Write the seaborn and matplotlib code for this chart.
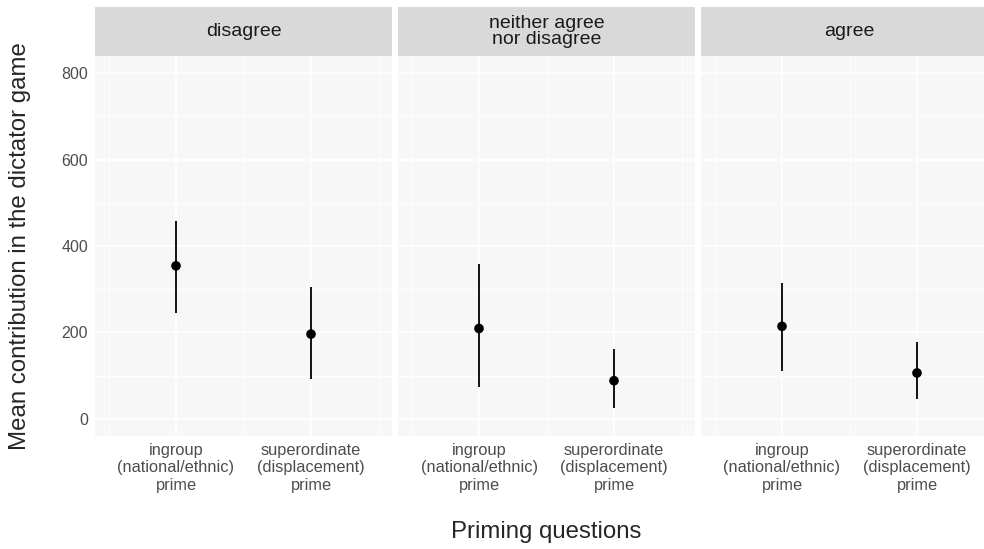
import matplotlib
matplotlib.use("Agg")
import matplotlib.pyplot as plt
import seaborn as sns
import pandas as pd

# values
facets = ["disagree", "neither agree\nnor disagree", "agree"]
primes = ["ingroup\n(national/ethnic)\nprime", "superordinate\n(displacement)\nprime"]
means = [[354, 196], [209, 88], [214, 106]]
lower = [[245, 91], [73, 25], [111, 45]]
upper = [[458, 305], [358, 162], [315, 178]]

rows = []
for i, f in enumerate(facets):
    for j, p in enumerate(primes):
        rows.append(dict(facet=f, prime=p, mean=means[i][j], lo=lower[i][j], hi=upper[i][j]))
df = pd.DataFrame(rows)

sns.set_theme(style="whitegrid")
plt.rcParams['font.family'] = ['Liberation Sans', 'DejaVu Sans']

W, H = 984, 549
fig = plt.figure(figsize=(W / 100, H / 100), dpi=100)

px0 = [95, 398, 701]
pw = 297
ptop, pbot = 56, 436
stop = 7

for k, f in enumerate(facets):
    ax = fig.add_axes([px0[k] / W, 1 - pbot / H, pw / W, (pbot - ptop) / H])
    sub = df[df.facet == f]
    ax.vlines(sub.prime, sub.lo, sub.hi, color="black", lw=1.3, zorder=3)
    sns.scatterplot(data=sub, x="prime", y="mean", ax=ax, color="black",
                    s=48, edgecolor="none", zorder=4, legend=False)
    ax.set_xlim(-0.6, 1.6)
    ax.set_ylim(-40, 840)
    ax.set_yticks([0, 200, 400, 600, 800])
    ax.set_yticks([100, 300, 500, 700], minor=True)
    ax.set_xticks([-0.5, 0.5, 1.5], minor=True)
    ax.set_facecolor("#F7F7F7")
    ax.grid(which="major", color="white", lw=1.1)
    ax.grid(which="minor", color="white", lw=0.55)
    ax.set_axisbelow(True)
    for s in ax.spines.values():
        s.set_visible(False)
    ax.set_xlabel("")
    ax.set_ylabel("")
    ax.tick_params(axis="both", which="major", length=3, width=0.8, color="#333333",
                   labelcolor="#4D4D4D", labelsize=11.5, pad=2)
    ax.tick_params(axis="x", which="major", labelsize=11.8)
    ax.tick_params(axis="both", which="minor", length=0)
    for lbl in ax.get_xticklabels():
        lbl.set_linespacing(1.2)
    if k > 0:
        ax.tick_params(axis="y", left=False, labelleft=False)

    # facet strip
    st = fig.add_axes([px0[k] / W, 1 - ptop / H, pw / W, (ptop - stop) / H])
    st.set_facecolor("#D9D9D9")
    st.set_xticks([])
    st.set_yticks([])
    for s in st.spines.values():
        s.set_visible(False)
    st.text(0.5, 0.5, f, ha="center", va="center", fontsize=14,
            color="#1A1A1A", linespacing=1.0, transform=st.transAxes)

fig.text(546.5 / W, 1 - 532 / H, "Priming questions", ha="center", va="center", fontsize=17.3)
fig.text(20 / W, 1 - 246 / H, "Mean contribution in the dictator game", ha="center",
         va="center", rotation=90, fontsize=17.3)

fig.savefig("out.png", dpi=100)
